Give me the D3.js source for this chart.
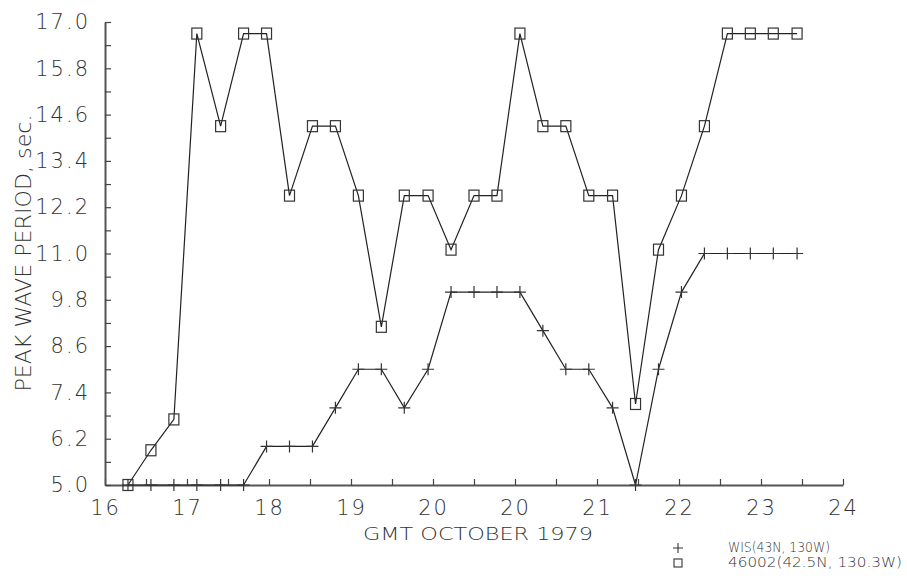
<!DOCTYPE html>
<html>
<head>
<meta charset="utf-8">
<script src="https://cdn.jsdelivr.net/npm/d3@7"></script>
<style>
  html, body { margin: 0; padding: 0; background: #fff; }
  svg { display: block; }
  text { font-family: "DejaVu Sans", "Liberation Sans", sans-serif; font-weight: 200; fill: #333; }
</style>
</head>
<body>
<svg id="chart" width="907" height="580"></svg>
<script>
// Axis labels along the time axis (as printed on the plot)
const xLabels = ["16", "17", "18", "19", "20", "20", "21", "22", "23", "24"];
// Period axis labels
const yLabels = [5.0, 6.2, 7.4, 8.6, 9.8, 11.0, 12.2, 13.4, 14.6, 15.8, 17.0];

// Observation times, in axis-label units (0 = first label)
const times = [0.28, 0.56, 0.84, 1.12, 1.41, 1.69, 1.97, 2.25, 2.53, 2.81,
               3.09, 3.37, 3.65, 3.94, 4.22, 4.50, 4.78, 5.06, 5.34, 5.62,
               5.90, 6.19, 6.47, 6.75, 7.03, 7.31, 7.59, 7.87, 8.15, 8.44];

// WIS hindcast peak period (s) at 43N, 130W
const wisPeriod = [5.0, 5.0, 5.0, 5.0, 5.0, 5.0, 6.0, 6.0, 6.0, 7.0,
                   8.0, 8.0, 7.0, 8.0, 10.0, 10.0, 10.0, 10.0, 9.0, 8.0,
                   8.0, 7.0, 5.0, 8.0, 10.0, 11.0, 11.0, 11.0, 11.0, 11.0];

// Buoy 46002 measured peak period (s) at 42.5N, 130.3W
const buoyPeriod = [5.0, 5.9, 6.7, 16.7, 14.3, 16.7, 16.7, 12.5, 14.3, 14.3,
                    12.5, 9.1, 12.5, 12.5, 11.1, 12.5, 12.5, 16.7, 14.3, 14.3,
                    12.5, 12.5, 7.1, 11.1, 12.5, 14.3, 16.7, 16.7, 16.7, 16.7];

const legendLabels = ["WIS(43N, 130W)", "46002(42.5N, 130.3W)"];
const xTitle = "GMT OCTOBER 1979";
const yTitle = "PEAK WAVE PERIOD, sec.";

const svg = d3.select("#chart");

const x = d3.scaleLinear().domain([0, xLabels.length - 1]).range([105, 843]);
const y = d3.scaleLinear().domain([5, 17]).range([485, 22]);

// tick positions: labelled ticks plus midway minor ticks
const xTickVals = [];
xLabels.forEach((_, i) => { xTickVals.push(i); if (i < xLabels.length - 1) xTickVals.push(i + 0.5); });
const yTickVals = [];
yLabels.forEach((v, i) => { yTickVals.push(v); if (i < yLabels.length - 1) yTickVals.push(+(v + 0.6).toFixed(1)); });
const yLabelSet = new Set(yLabels.map(v => v.toFixed(1)));

const xAxis = d3.axisBottom(x)
  .tickValues(xTickVals)
  .tickSizeInner(-6).tickSizeOuter(0).tickPadding(15)
  .tickFormat(d => Number.isInteger(d) ? xLabels[d] : "");

const yAxis = d3.axisLeft(y)
  .tickValues(yTickVals)
  .tickSizeInner(-6).tickSizeOuter(0).tickPadding(15)
  .tickFormat(d => yLabelSet.has(d.toFixed(1)) ? d.toFixed(1) : "");

function styleAxis(g) {
  g.select(".domain").attr("stroke", "#555").attr("stroke-width", 2);
  g.selectAll(".tick line").attr("stroke", "#444").attr("stroke-width", 1.2);
  g.selectAll(".tick text")
    .attr("font-family", null).attr("font-size", 21)
    .attr("letter-spacing", 2).attr("fill", "#333");
}

svg.append("g").attr("transform", `translate(0,${y(5)})`).call(xAxis).call(styleAxis);
svg.append("g").attr("transform", `translate(${x(0)},0)`).call(yAxis).call(styleAxis);

// axis titles
svg.append("text")
  .attr("x", 478).attr("y", 540)
  .attr("text-anchor", "middle")
  .attr("font-size", 18)
  .attr("textLength", 230).attr("lengthAdjust", "spacingAndGlyphs")
  .text(xTitle);

svg.append("text")
  .attr("transform", "translate(31,253) rotate(-90)")
  .attr("text-anchor", "middle")
  .attr("font-size", 22)
  .attr("textLength", 277).attr("lengthAdjust", "spacingAndGlyphs")
  .text(yTitle);

// series lines
const line = (vals) => d3.line().x((d, i) => x(times[i])).y(d => y(d))(vals);

svg.append("path").attr("d", line(wisPeriod))
  .attr("fill", "none").attr("stroke", "#222").attr("stroke-width", 1.2);
svg.append("path").attr("d", line(buoyPeriod))
  .attr("fill", "none").attr("stroke", "#222").attr("stroke-width", 1.2);

// markers
const plusPath = d3.path();
plusPath.moveTo(-6, 0); plusPath.lineTo(6, 0);
plusPath.moveTo(0, -6); plusPath.lineTo(0, 6);

svg.append("g").selectAll("path.plus").data(wisPeriod).join("path")
  .attr("class", "plus")
  .attr("transform", (d, i) => `translate(${x(times[i])},${y(d)})`)
  .attr("d", plusPath.toString())
  .attr("fill", "none").attr("stroke", "#333").attr("stroke-width", 1.2);

svg.append("g").selectAll("rect.box").data(buoyPeriod).join("rect")
  .attr("class", "box")
  .attr("x", (d, i) => x(times[i]) - 5)
  .attr("y", d => y(d) - 5.5)
  .attr("width", 10).attr("height", 11)
  .attr("fill", "none").attr("stroke", "#333").attr("stroke-width", 1.2);

// legend
const legend = svg.append("g");
legend.append("path")
  .attr("transform", "translate(678,548)")
  .attr("d", "M-5,0L5,0M0,-5L0,5")
  .attr("stroke", "#333").attr("stroke-width", 1.1).attr("fill", "none");
legend.append("rect")
  .attr("x", 674).attr("y", 559).attr("width", 8).attr("height", 8)
  .attr("fill", "none").attr("stroke", "#333").attr("stroke-width", 1.1);
legend.append("text").attr("x", 728).attr("y", 552)
  .attr("font-size", 14).attr("textLength", 102).attr("lengthAdjust", "spacingAndGlyphs")
  .text(legendLabels[0]);
legend.append("text").attr("x", 728).attr("y", 567)
  .attr("font-size", 14).attr("textLength", 174).attr("lengthAdjust", "spacingAndGlyphs")
  .text(legendLabels[1]);
</script>
</body>
</html>
